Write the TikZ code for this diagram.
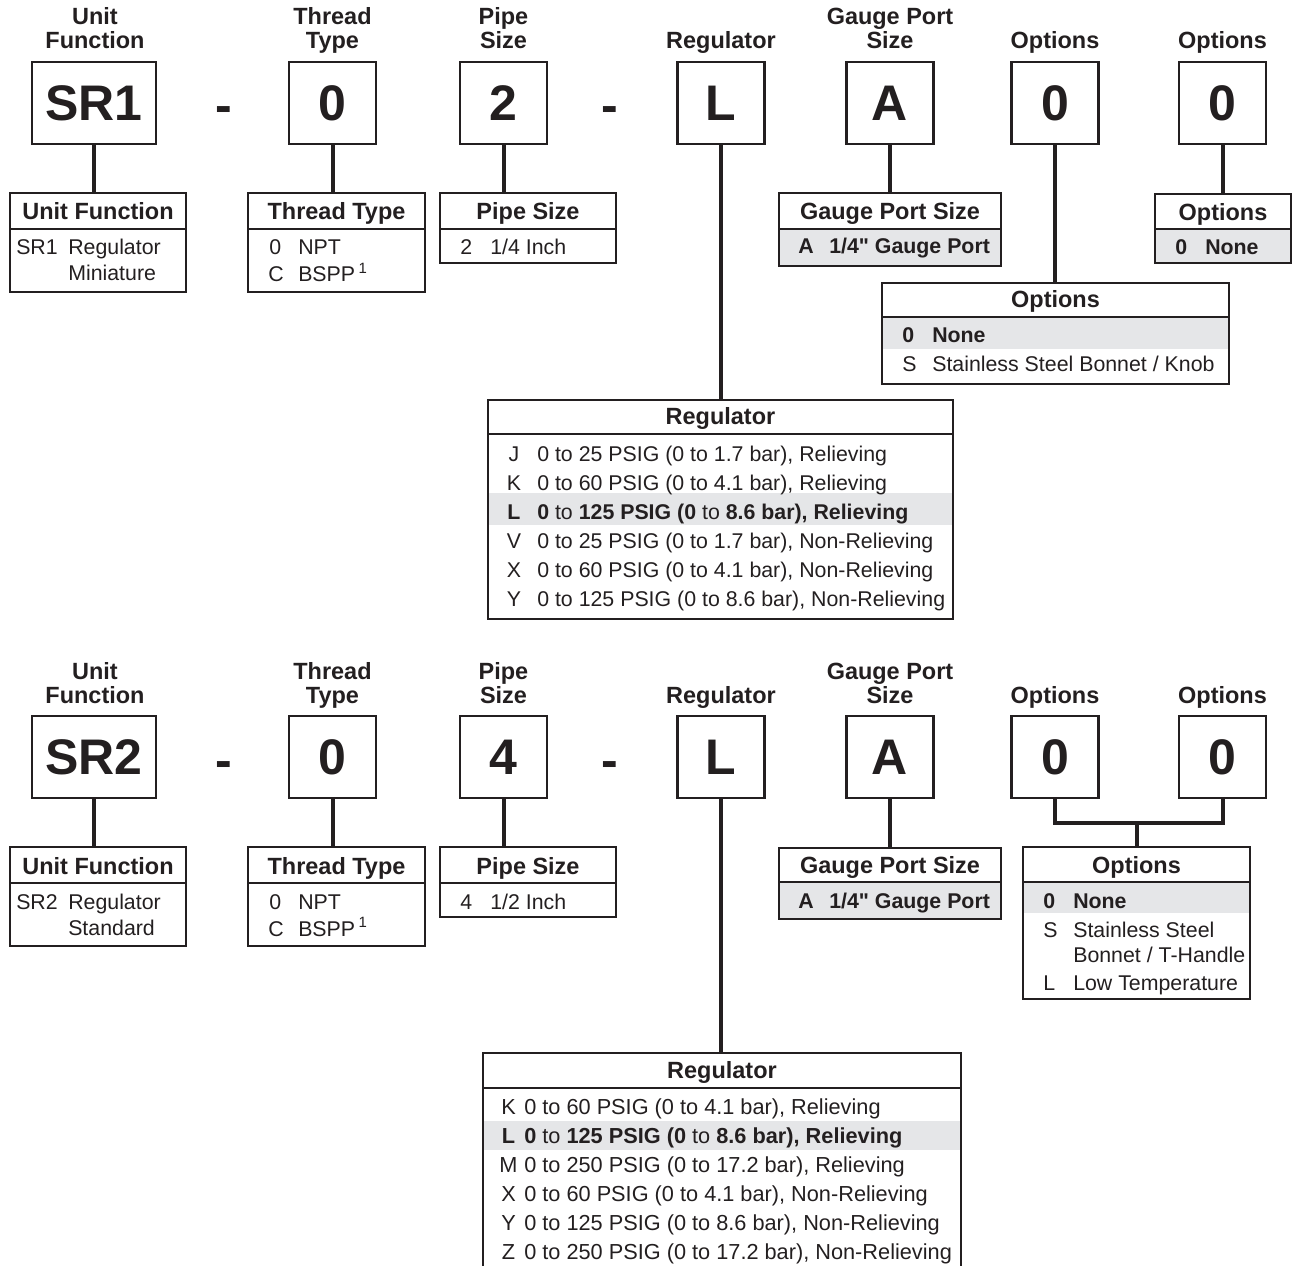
\documentclass[tikz,border=0pt]{standalone}
\usepackage{fontspec}
\setmainfont{Liberation Sans}
\definecolor{ink}{RGB}{35,31,32}
\definecolor{shd}{RGB}{229,230,232}
\newcommand\fhd{\fontsize{17.6}{18}\selectfont\bfseries}
\newcommand\frw{\fontsize{16}{18}\selectfont}
\newcommand\frwb{\fontsize{16.3}{18}\selectfont}
\newcommand\fbig{\fontsize{37.5}{40}\selectfont\bfseries}
\newcommand\sqq{\XeTeXglyph\XeTeXcharglyph"22\relax}
\begin{document}
\begin{tikzpicture}[x=0.75pt,y=-0.75pt,
  every node/.style={text=ink},
  codebox/.style={draw=ink, line width=2pt, minimum width=87*0.75pt, minimum height=82*0.75pt, inner sep=0pt, outer sep=0pt, font=\fbig},
  tbl/.style={draw=ink, line width=2pt, anchor=north west, inner sep=0pt, outer sep=0pt},
  conn/.style={draw=ink, line width=3pt},
  divline/.style={draw=ink, line width=2pt},
  shadefill/.style={fill=shd},
  hd/.style={font=\fhd, anchor=base, align=center, inner sep=0pt},
  hyph/.style={font=\fbig, anchor=base, inner sep=0pt},
  rw/.style={font=\frw, anchor=base west, inner sep=0pt},
  rwb/.style={font=\frw\bfseries, anchor=base west, inner sep=0pt},
  lt/.style={font=\frw, anchor=base, inner sep=0pt},
  rw2/.style={font=\frwb, anchor=base west, inner sep=0pt},
  lt2/.style={font=\frwb, anchor=base, inner sep=0pt},
]
\useasboundingbox (0,0) rectangle (1293,1266);
\clip (0,0) rectangle (1293,1266);

% ================= TOP =================
\node[hd] (h1) at (95,49) {Unit\\Function};
\node[hd] (h2) at (332.5,49) {Thread\\Type};
\node[hd] (h3) at (503.5,49) {Pipe\\Size};
\node[hd] (h4) at (721,49) {Regulator};
\node[hd] (h5) at (890,49) {Gauge Port\\Size};
\node[hd] (h6) at (1055,49) {Options};
\node[hd] (h7) at (1222.5,49) {Options};

\node[codebox, minimum width=124*0.75pt] (a1) at (94,103) {SR1};
\node[codebox] (a2) at (332.5,103) {0};
\node[codebox] (a3) at (503.5,103) {2};
\node[codebox] (a4) at (721,103) {L};
\node[codebox] (a5) at (890,103) {A};
\node[codebox] (a6) at (1055,103) {0};
\node[codebox] (a7) at (1222.5,103) {0};
\node[hyph] (d1) at (223.5,123) {-};
\node[hyph] (d2) at (610,123) {-};

% shading
\fill[shadefill] (779,229) rectangle (1001,266);
\fill[shadefill] (1155,229) rectangle (1291,263);
\fill[shadefill] (882,317) rectangle (1229,349);
\fill[shadefill] (488,493) rectangle (953,525);

% tables
\node[tbl, minimum width=176*0.75pt, minimum height=99*0.75pt] (t1) at (10,193) {};
\node[tbl, minimum width=177*0.75pt, minimum height=99*0.75pt] (t2) at (248,193) {};
\node[tbl, minimum width=176*0.75pt, minimum height=70*0.75pt] (t3) at (440,193) {};
\node[tbl, minimum width=222*0.75pt, minimum height=73*0.75pt] (t4) at (779,193) {};
\node[tbl, minimum width=136*0.75pt, minimum height=69*0.75pt] (t5) at (1155,194) {};
\node[tbl, minimum width=347*0.75pt, minimum height=101*0.75pt] (t6) at (882,283) {};
\node[tbl, minimum width=465*0.75pt, minimum height=219*0.75pt] (t7) at (488,400) {};

\draw[divline] (10,229) -- (186,229);
\draw[divline] (248,229) -- (425,229);
\draw[divline] (440,229) -- (616,229);
\draw[divline] (779,229) -- (1001,229);
\draw[divline] (1155,229) -- (1291,229);
\draw[divline] (882,317) -- (1229,317);
\draw[divline] (488,434) -- (953,434);

\node[hd] (t1h) at (98,220) {Unit Function};
\node[hd] (t2h) at (336.5,220) {Thread Type};
\node[hd] (t3h) at (528,220) {Pipe Size};
\node[hd] (t4h) at (890,220) {Gauge Port Size};
\node[hd] (t5h) at (1223,221) {Options};
\node[hd] (t6h) at (1055.5,308) {Options};
\node[hd] (t7h) at (720.5,425) {Regulator};

\node[rw] (t1a) at (16,255) {SR1};
\node[rw] (t1b) at (68,255) {Regulator};
\node[rw] (t1c) at (68,281) {Miniature};

\node[rw] (t2a) at (269,255) {0};
\node[rw] (t2b) at (298,255) {NPT};
\node[rw] (t2c) at (268,282) {C};
\node[rw] (t2d) at (298,282) {BSPP\kern2.5pt\textsuperscript{1}};

\node[rw] (t3a) at (460,255) {2};
\node[rw] (t3b) at (490,255) {1/4 Inch};

\node[rwb] (t4a) at (798,254) {A};
\node[rwb] (t4b) at (829,254) {1/4\sqq{} Gauge Port};

\node[rwb] (t5a) at (1175,255) {0};
\node[rwb] (t5b) at (1205,255) {None};

\node[rwb] (t6a) at (902,343) {0};
\node[rwb] (t6b) at (932,343) {None};
\node[rw] (t6c) at (902,372) {S};
\node[rw] (t6d) at (932,372) {Stainless Steel Bonnet / Knob};

\node[lt] (t7a) at (514,461) {J};
\node[rw] (t7b) at (537,461) {0 to 25 PSIG (0 to 1.7 bar), Relieving};
\node[lt] (t7c) at (514,490) {K};
\node[rw] (t7d) at (537,490) {0 to 60 PSIG (0 to 4.1 bar), Relieving};
\node[lt] (t7e) at (514,519) {\bfseries L};
\node[rw] (t7f) at (537,519) {\textbf{0} to \textbf{125 PSIG (0} to \textbf{8.6 bar), Relieving}};
\node[lt] (t7g) at (514,548) {V};
\node[rw] (t7h) at (537,548) {0 to 25 PSIG (0 to 1.7 bar), Non-Relieving};
\node[lt] (t7i) at (514,577) {X};
\node[rw] (t7j) at (537,577) {0 to 60 PSIG (0 to 4.1 bar), Non-Relieving};
\node[lt] (t7k) at (514,606) {Y};
\node[rw] (t7l) at (537,606) {0 to 125 PSIG (0 to 8.6 bar), Non-Relieving};

% connectors top
\draw[conn] (a1.south) -- (a1.south |- t1.north);
\draw[conn] (a2.south) -- (a2.south |- t2.north);
\draw[conn] (a3.south) -- (a3.south |- t3.north);
\draw[conn] (a4.south) -- (a4.south |- t7.north);
\draw[conn] (a5.south) -- (a5.south |- t4.north);
\draw[conn] (a6.south) -- (a6.south |- t6.north);
\draw[conn] (a7.south) -- (a7.south |- t5.north);

% ================= BOTTOM =================
\node[hd] (g1) at (95,703) {Unit\\Function};
\node[hd] (g2) at (332.5,703) {Thread\\Type};
\node[hd] (g3) at (503.5,703) {Pipe\\Size};
\node[hd] (g4) at (721,703) {Regulator};
\node[hd] (g5) at (890,703) {Gauge Port\\Size};
\node[hd] (g6) at (1055,703) {Options};
\node[hd] (g7) at (1222.5,703) {Options};

\node[codebox, minimum width=124*0.75pt] (b1) at (94,757) {SR2};
\node[codebox] (b2) at (332.5,757) {0};
\node[codebox] (b3) at (503.5,757) {4};
\node[codebox] (b4) at (721,757) {L};
\node[codebox] (b5) at (890,757) {A};
\node[codebox] (b6) at (1055,757) {0};
\node[codebox] (b7) at (1222.5,757) {0};
\node[hyph] (e1) at (223.5,777) {-};
\node[hyph] (e2) at (610,777) {-};

\fill[shadefill] (779,882) rectangle (1001,919);
\fill[shadefill] (1023,882) rectangle (1250,913);
\fill[shadefill] (483,1121) rectangle (961,1150);

\node[tbl, minimum width=176*0.75pt, minimum height=99*0.75pt] (u1) at (10,847) {};
\node[tbl, minimum width=177*0.75pt, minimum height=99*0.75pt] (u2) at (248,847) {};
\node[tbl, minimum width=176*0.75pt, minimum height=70*0.75pt] (u3) at (440,847) {};
\node[tbl, minimum width=222*0.75pt, minimum height=71*0.75pt] (u4) at (779,848) {};
\node[tbl, minimum width=227*0.75pt, minimum height=152*0.75pt] (u5) at (1023,847) {};
\node[tbl, minimum width=478*0.75pt, minimum height=240*0.75pt] (u6) at (483,1053) {};

\draw[divline] (10,883) -- (186,883);
\draw[divline] (248,883) -- (425,883);
\draw[divline] (440,883) -- (616,883);
\draw[divline] (779,882) -- (1001,882);
\draw[divline] (1023,882) -- (1250,882);
\draw[divline] (483,1088) -- (961,1088);

\node[hd] (u1h) at (98,874) {Unit Function};
\node[hd] (u2h) at (336.5,874) {Thread Type};
\node[hd] (u3h) at (528,874) {Pipe Size};
\node[hd] (u4h) at (890,873) {Gauge Port Size};
\node[hd] (u5h) at (1136.5,873) {Options};
\node[hd] (u6h) at (722,1078) {Regulator};

\node[rw] (u1a) at (16,909) {SR2};
\node[rw] (u1b) at (68,909) {Regulator};
\node[rw] (u1c) at (68,935) {Standard};

\node[rw] (u2a) at (269,909) {0};
\node[rw] (u2b) at (298,909) {NPT};
\node[rw] (u2c) at (268,936) {C};
\node[rw] (u2d) at (298,936) {BSPP\kern2.5pt\textsuperscript{1}};

\node[rw] (u3a) at (460,909) {4};
\node[rw] (u3b) at (490,909) {1/2 Inch};

\node[rwb] (u4a) at (798,908) {A};
\node[rwb] (u4b) at (829,908) {1/4\sqq{} Gauge Port};

\node[rwb] (u5a) at (1043,908) {0};
\node[rwb] (u5b) at (1073,908) {None};
\node[rw] (u5c) at (1043,937) {S};
\node[rw] (u5d) at (1073,937) {Stainless Steel};
\node[rw] (u5e) at (1073,962) {Bonnet / T-Handle};
\node[rw] (u5f) at (1043,990) {L};
\node[rw] (u5g) at (1073,990) {Low Temperature};

\node[lt2] (u6a) at (508.5,1114) {K};
\node[rw2] (u6b) at (524,1114) {0 to 60 PSIG (0 to 4.1 bar), Relieving};
\node[lt2] (u6c) at (508.5,1143) {\bfseries L};
\node[rw2] (u6d) at (524,1143) {\textbf{0} to \textbf{125 PSIG (0} to \textbf{8.6 bar), Relieving}};
\node[lt2] (u6e) at (508.5,1172) {M};
\node[rw2] (u6f) at (524,1172) {0 to 250 PSIG (0 to 17.2 bar), Relieving};
\node[lt2] (u6g) at (508.5,1201) {X};
\node[rw2] (u6h) at (524,1201) {0 to 60 PSIG (0 to 4.1 bar), Non-Relieving};
\node[lt2] (u6i) at (508.5,1230) {Y};
\node[rw2] (u6j) at (524,1230) {0 to 125 PSIG (0 to 8.6 bar), Non-Relieving};
\node[lt2] (u6k) at (508.5,1259) {Z};
\node[rw2] (u6l) at (524,1259) {0 to 250 PSIG (0 to 17.2 bar), Non-Relieving};

% connectors bottom
\draw[conn] (b1.south) -- (b1.south |- u1.north);
\draw[conn] (b2.south) -- (b2.south |- u2.north);
\draw[conn] (b3.south) -- (b3.south |- u3.north);
\draw[conn] (b4.south) -- (b4.south |- u6.north);
\draw[conn] (b5.south) -- (b5.south |- u4.north);
\coordinate (bj) at (1136.5,823);
\draw[conn] (b6.south) |- (bj) -| (b7.south);
\draw[conn] (bj) -- (bj |- u5.north);
\end{tikzpicture}
\end{document}
